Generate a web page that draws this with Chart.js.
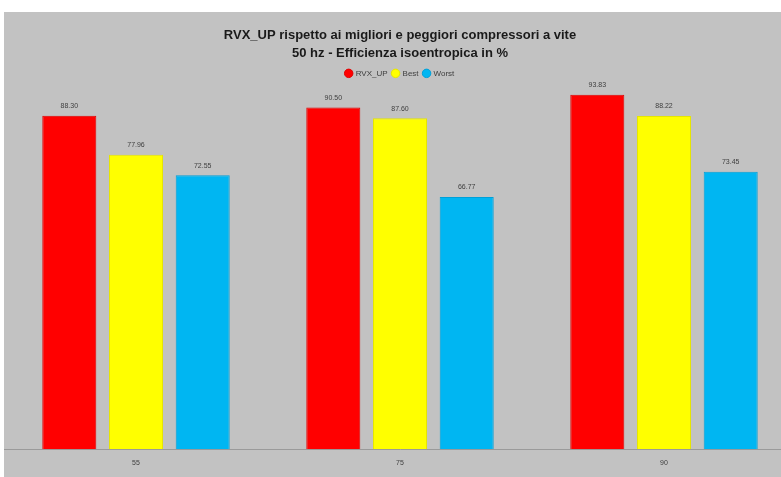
<!DOCTYPE html>
<html>
<head>
<meta charset="utf-8">
<script src="https://cdn.jsdelivr.net/npm/chart.js@4"></script>
<style>
    html, body {
        margin: 0;
        padding: 0;
        width: 781px;
        height: 477px;
        overflow: hidden;
        background: #ffffff;
    }
    #wrap {
        position: absolute;
        left: 4px;
        top: 12px;
        width: 795px;
        height: 490px;
        background: #c2c2c2;
    }
</style>
</head>
<body>
<div id="wrap"><canvas id="chart" width="795" height="490"></canvas></div>
<script>
const categories = ['55', '75', '90'];
const seriesNames = ['RVX_UP', 'Best', 'Worst'];
const rvxUp = [88.30, 90.50, 93.83];
const best = [77.96, 87.60, 88.22];
const worst = [72.55, 66.77, 73.45];
const titleLines = [
    'RVX_UP rispetto ai migliori e peggiori compressori a vite',
    '50 hz - Efficienza isoentropica in %',
];
const xTitle = 'Hz';

const FONT = '"Liberation Sans", Arial, sans-serif';

// value labels over each bar
const valueLabels = {
    id: 'valueLabels',
    afterDatasetsDraw(chart) {
        const ctx = chart.ctx;
        ctx.save();
        ctx.font = '7px ' + FONT;
        ctx.fillStyle = '#404040';
        ctx.textAlign = 'center';
        ctx.textBaseline = 'bottom';
        chart.data.datasets.forEach((ds, i) => {
            chart.getDatasetMeta(i).data.forEach((bar, j) => {
                ctx.fillText(ds.data[j].toFixed(2), bar.x, bar.y - 6);
            });
        });
        ctx.restore();
    },
};

new Chart(document.getElementById('chart'), {
    type: 'bar',
    data: {
        labels: categories,
        datasets: [
            {
                label: seriesNames[0],
                data: rvxUp,
                backgroundColor: '#ff0000',
                borderColor: '#e00000',
                borderWidth: 1,
            },
            {
                label: seriesNames[1],
                data: best,
                backgroundColor: '#ffff00',
                borderColor: '#e6e600',
                borderWidth: 1,
            },
            {
                label: seriesNames[2],
                data: worst,
                backgroundColor: '#00b6f2',
                borderColor: '#00a0d8',
                borderWidth: 1,
            },
        ],
    },
    options: {
        responsive: false,
        animation: false,
        categoryPercentage: 0.758,
        barPercentage: 0.81,
        layout: {
            padding: { left: 0, right: 3, top: 0, bottom: 10 },
        },
        plugins: {
            title: {
                display: true,
                text: titleLines,
                color: '#1a1a1a',
                font: { family: FONT, size: 13, weight: 'bold', lineHeight: 1.36 },
                padding: { top: 15, bottom: 2 },
            },
            legend: {
                display: true,
                labels: {
                    usePointStyle: true,
                    pointStyle: 'circle',
                    boxWidth: 6,
                    boxHeight: 6,
                    padding: 5,
                    color: '#404040',
                    font: { family: FONT, size: 8 },
                },
            },
            tooltip: { enabled: false },
        },
        scales: {
            x: {
                grid: { display: false, drawTicks: false },
                border: { display: true, color: '#9a9a9a', width: 1 },
                ticks: {
                    color: '#404040',
                    padding: 10,
                    font: { family: FONT, size: 7 },
                },
                title: {
                    display: true,
                    text: xTitle,
                    color: '#404040',
                    padding: { top: 2 },
                    font: { family: FONT, size: 7 },
                },
            },
            y: {
                display: false,
                min: 0,
                max: 95.8,
            },
        },
    },
    plugins: [valueLabels],
});
</script>
</body>
</html>
